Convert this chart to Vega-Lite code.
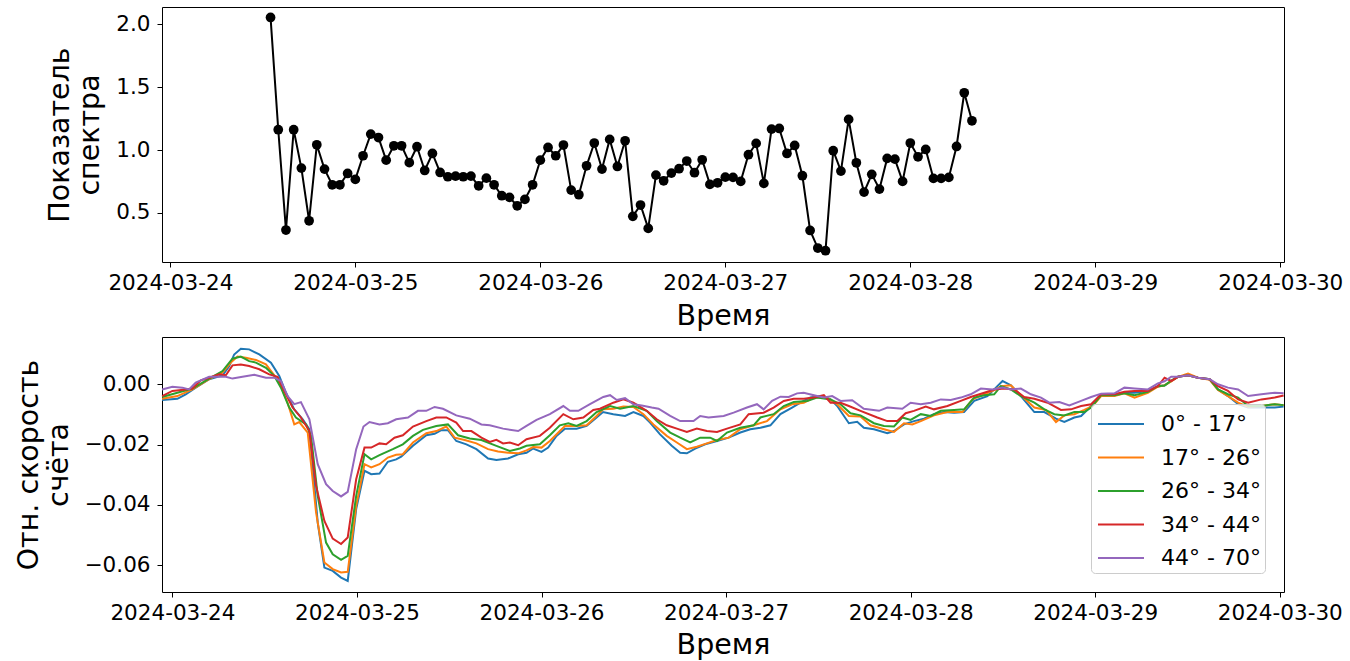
{
  "$schema": "https://vega.github.io/schema/vega-lite/v6.json",
  "background": "white",
  "padding": {"left": 13, "top": 6, "right": 0, "bottom": 0},
  "spacing": 5,
  "config": {
    "font": "DejaVu Sans",
    "view": {"stroke": "black", "strokeWidth": 1},
    "axis": {
      "domain": false, "grid": false,
      "tickColor": "black", "tickSize": 5, "tickWidth": 1,
      "labelColor": "black", "labelFont": "DejaVu Sans", "labelFontSize": 21.5,
      "titleColor": "black", "titleFont": "DejaVu Sans", "titleFontSize": 28.5, "titleFontWeight": "normal"
    },
    "axisX": {"labelPadding": 5, "titlePadding": 8, "labelFlush": false, "labelOverlap": false, "labelBound": false},
    "axisY": {"labelPadding": 7, "titlePadding": 11, "titleLineHeight": 30},
    "legend": {
      "orient": "none", "legendX": 929, "legendY": 397, "title": null,
      "symbolType": "M-0.867,0H2.2", "symbolSize": 900, "symbolStrokeWidth": 2,
      "labelFont": "DejaVu Sans", "labelFontSize": 22, "labelColor": "black", "labelOffset": 34, "labelLimit": 400,
      "padding": 4, "rowPadding": 6.5,
      "strokeColor": "#cccccc", "fillColor": "rgba(255,255,255,0.8)", "cornerRadius": 4
    }
  },
  "datasets": {
    "spec": [
      {"t": "2024-03-24T13:00", "v": 2.055}, {"t": "2024-03-24T14:00", "v": 1.162}, {"t": "2024-03-24T15:00", "v": 0.364},
      {"t": "2024-03-24T16:00", "v": 1.162}, {"t": "2024-03-24T17:00", "v": 0.857}, {"t": "2024-03-24T18:00", "v": 0.438},
      {"t": "2024-03-24T19:00", "v": 1.042}, {"t": "2024-03-24T20:00", "v": 0.849}, {"t": "2024-03-24T21:00", "v": 0.724},
      {"t": "2024-03-24T22:00", "v": 0.724}, {"t": "2024-03-24T23:00", "v": 0.814}, {"t": "2024-03-25T00:00", "v": 0.767},
      {"t": "2024-03-25T01:00", "v": 0.955}, {"t": "2024-03-25T02:00", "v": 1.127}, {"t": "2024-03-25T03:00", "v": 1.1},
      {"t": "2024-03-25T04:00", "v": 0.92}, {"t": "2024-03-25T05:00", "v": 1.034}, {"t": "2024-03-25T06:00", "v": 1.034},
      {"t": "2024-03-25T07:00", "v": 0.9}, {"t": "2024-03-25T08:00", "v": 1.027}, {"t": "2024-03-25T09:00", "v": 0.838},
      {"t": "2024-03-25T10:00", "v": 0.973}, {"t": "2024-03-25T11:00", "v": 0.822}, {"t": "2024-03-25T12:00", "v": 0.788},
      {"t": "2024-03-25T13:00", "v": 0.793}, {"t": "2024-03-25T14:00", "v": 0.788}, {"t": "2024-03-25T15:00", "v": 0.793},
      {"t": "2024-03-25T16:00", "v": 0.716}, {"t": "2024-03-25T17:00", "v": 0.777}, {"t": "2024-03-25T18:00", "v": 0.724},
      {"t": "2024-03-25T19:00", "v": 0.637}, {"t": "2024-03-25T20:00", "v": 0.624}, {"t": "2024-03-25T21:00", "v": 0.557},
      {"t": "2024-03-25T22:00", "v": 0.608}, {"t": "2024-03-25T23:00", "v": 0.724}, {"t": "2024-03-26T00:00", "v": 0.92},
      {"t": "2024-03-26T01:00", "v": 1.021}, {"t": "2024-03-26T02:00", "v": 0.955}, {"t": "2024-03-26T03:00", "v": 1.04},
      {"t": "2024-03-26T04:00", "v": 0.682}, {"t": "2024-03-26T05:00", "v": 0.645}, {"t": "2024-03-26T06:00", "v": 0.875},
      {"t": "2024-03-26T07:00", "v": 1.056}, {"t": "2024-03-26T08:00", "v": 0.849}, {"t": "2024-03-26T09:00", "v": 1.085},
      {"t": "2024-03-26T10:00", "v": 0.87}, {"t": "2024-03-26T11:00", "v": 1.074}, {"t": "2024-03-26T12:00", "v": 0.473},
      {"t": "2024-03-26T13:00", "v": 0.563}, {"t": "2024-03-26T14:00", "v": 0.377}, {"t": "2024-03-26T15:00", "v": 0.801},
      {"t": "2024-03-26T16:00", "v": 0.756}, {"t": "2024-03-26T17:00", "v": 0.817}, {"t": "2024-03-26T18:00", "v": 0.852},
      {"t": "2024-03-26T19:00", "v": 0.913}, {"t": "2024-03-26T20:00", "v": 0.82}, {"t": "2024-03-26T21:00", "v": 0.923},
      {"t": "2024-03-26T22:00", "v": 0.727}, {"t": "2024-03-26T23:00", "v": 0.74}, {"t": "2024-03-27T00:00", "v": 0.785},
      {"t": "2024-03-27T01:00", "v": 0.783}, {"t": "2024-03-27T02:00", "v": 0.751}, {"t": "2024-03-27T03:00", "v": 0.963},
      {"t": "2024-03-27T04:00", "v": 1.053}, {"t": "2024-03-27T05:00", "v": 0.735}, {"t": "2024-03-27T06:00", "v": 1.167},
      {"t": "2024-03-27T07:00", "v": 1.172}, {"t": "2024-03-27T08:00", "v": 0.973}, {"t": "2024-03-27T09:00", "v": 1.037},
      {"t": "2024-03-27T10:00", "v": 0.796}, {"t": "2024-03-27T11:00", "v": 0.361}, {"t": "2024-03-27T12:00", "v": 0.221},
      {"t": "2024-03-27T13:00", "v": 0.2}, {"t": "2024-03-27T14:00", "v": 0.995}, {"t": "2024-03-27T15:00", "v": 0.833},
      {"t": "2024-03-27T16:00", "v": 1.244}, {"t": "2024-03-27T17:00", "v": 0.899}, {"t": "2024-03-27T18:00", "v": 0.666},
      {"t": "2024-03-27T19:00", "v": 0.807}, {"t": "2024-03-27T20:00", "v": 0.69}, {"t": "2024-03-27T21:00", "v": 0.934},
      {"t": "2024-03-27T22:00", "v": 0.928}, {"t": "2024-03-27T23:00", "v": 0.751}, {"t": "2024-03-28T00:00", "v": 1.056},
      {"t": "2024-03-28T01:00", "v": 0.947}, {"t": "2024-03-28T02:00", "v": 1.005}, {"t": "2024-03-28T03:00", "v": 0.775},
      {"t": "2024-03-28T04:00", "v": 0.775}, {"t": "2024-03-28T05:00", "v": 0.783}, {"t": "2024-03-28T06:00", "v": 1.029},
      {"t": "2024-03-28T07:00", "v": 1.456}, {"t": "2024-03-28T08:00", "v": 1.233}
    ],
    "rate": [
      {"s": "0° - 17°", "t": "2024-03-23T22:40", "v": -0.0052}, {"s": "0° - 17°", "t": "2024-03-24T00:39", "v": -0.0048},
      {"s": "0° - 17°", "t": "2024-03-24T01:44", "v": -0.0033}, {"s": "0° - 17°", "t": "2024-03-24T03:02", "v": -0.0011},
      {"s": "0° - 17°", "t": "2024-03-24T04:47", "v": 0.0017}, {"s": "0° - 17°", "t": "2024-03-24T06:31", "v": 0.003},
      {"s": "0° - 17°", "t": "2024-03-24T07:23", "v": 0.006}, {"s": "0° - 17°", "t": "2024-03-24T08:02", "v": 0.0099},
      {"s": "0° - 17°", "t": "2024-03-24T08:54", "v": 0.0118}, {"s": "0° - 17°", "t": "2024-03-24T09:59", "v": 0.0116},
      {"s": "0° - 17°", "t": "2024-03-24T11:18", "v": 0.0099}, {"s": "0° - 17°", "t": "2024-03-24T12:49", "v": 0.0072},
      {"s": "0° - 17°", "t": "2024-03-24T13:54", "v": 0.0028}, {"s": "0° - 17°", "t": "2024-03-24T14:46", "v": -0.0028},
      {"s": "0° - 17°", "t": "2024-03-24T15:51", "v": -0.0083}, {"s": "0° - 17°", "t": "2024-03-24T16:57", "v": -0.0116},
      {"s": "0° - 17°", "t": "2024-03-24T17:49", "v": -0.0149}, {"s": "0° - 17°", "t": "2024-03-24T18:54", "v": -0.0459},
      {"s": "0° - 17°", "t": "2024-03-24T19:46", "v": -0.0608}, {"s": "0° - 17°", "t": "2024-03-24T20:51", "v": -0.0619},
      {"s": "0° - 17°", "t": "2024-03-24T21:56", "v": -0.0641}, {"s": "0° - 17°", "t": "2024-03-24T22:48", "v": -0.0652},
      {"s": "0° - 17°", "t": "2024-03-24T23:54", "v": -0.0414}, {"s": "0° - 17°", "t": "2024-03-25T00:59", "v": -0.0287},
      {"s": "0° - 17°", "t": "2024-03-25T01:51", "v": -0.0298}, {"s": "0° - 17°", "t": "2024-03-25T02:56", "v": -0.0296},
      {"s": "0° - 17°", "t": "2024-03-25T04:01", "v": -0.0257}, {"s": "0° - 17°", "t": "2024-03-25T05:06", "v": -0.0249},
      {"s": "0° - 17°", "t": "2024-03-25T05:45", "v": -0.024}, {"s": "0° - 17°", "t": "2024-03-25T07:17", "v": -0.0204},
      {"s": "0° - 17°", "t": "2024-03-25T09:01", "v": -0.0169}, {"s": "0° - 17°", "t": "2024-03-25T10:06", "v": -0.0164},
      {"s": "0° - 17°", "t": "2024-03-25T10:58", "v": -0.0152}, {"s": "0° - 17°", "t": "2024-03-25T11:50", "v": -0.0152},
      {"s": "0° - 17°", "t": "2024-03-25T12:55", "v": -0.0188}, {"s": "0° - 17°", "t": "2024-03-25T14:14", "v": -0.0199},
      {"s": "0° - 17°", "t": "2024-03-25T15:32", "v": -0.0215}, {"s": "0° - 17°", "t": "2024-03-25T17:03", "v": -0.0246},
      {"s": "0° - 17°", "t": "2024-03-25T18:08", "v": -0.0251}, {"s": "0° - 17°", "t": "2024-03-25T19:39", "v": -0.0246},
      {"s": "0° - 17°", "t": "2024-03-25T20:58", "v": -0.0232}, {"s": "0° - 17°", "t": "2024-03-25T22:03", "v": -0.0227},
      {"s": "0° - 17°", "t": "2024-03-25T22:55", "v": -0.0213}, {"s": "0° - 17°", "t": "2024-03-26T00:00", "v": -0.0224},
      {"s": "0° - 17°", "t": "2024-03-26T00:52", "v": -0.021}, {"s": "0° - 17°", "t": "2024-03-26T01:57", "v": -0.0171},
      {"s": "0° - 17°", "t": "2024-03-26T03:03", "v": -0.0147}, {"s": "0° - 17°", "t": "2024-03-26T04:34", "v": -0.0147},
      {"s": "0° - 17°", "t": "2024-03-26T05:52", "v": -0.0138}, {"s": "0° - 17°", "t": "2024-03-26T07:10", "v": -0.011},
      {"s": "0° - 17°", "t": "2024-03-26T08:00", "v": -0.0092}, {"s": "0° - 17°", "t": "2024-03-26T09:20", "v": -0.0099},
      {"s": "0° - 17°", "t": "2024-03-26T10:52", "v": -0.0105}, {"s": "0° - 17°", "t": "2024-03-26T11:57", "v": -0.0092},
      {"s": "0° - 17°", "t": "2024-03-26T13:15", "v": -0.0105}, {"s": "0° - 17°", "t": "2024-03-26T14:07", "v": -0.0127},
      {"s": "0° - 17°", "t": "2024-03-26T15:25", "v": -0.0166}, {"s": "0° - 17°", "t": "2024-03-26T16:56", "v": -0.0204},
      {"s": "0° - 17°", "t": "2024-03-26T18:02", "v": -0.0227}, {"s": "0° - 17°", "t": "2024-03-26T18:54", "v": -0.0229},
      {"s": "0° - 17°", "t": "2024-03-26T19:59", "v": -0.0213}, {"s": "0° - 17°", "t": "2024-03-26T21:17", "v": -0.0199},
      {"s": "0° - 17°", "t": "2024-03-26T22:49", "v": -0.0188}, {"s": "0° - 17°", "t": "2024-03-27T00:20", "v": -0.0177},
      {"s": "0° - 17°", "t": "2024-03-27T01:51", "v": -0.016}, {"s": "0° - 17°", "t": "2024-03-27T03:09", "v": -0.0149},
      {"s": "0° - 17°", "t": "2024-03-27T04:28", "v": -0.0144}, {"s": "0° - 17°", "t": "2024-03-27T05:46", "v": -0.0136},
      {"s": "0° - 17°", "t": "2024-03-27T07:04", "v": -0.0099}, {"s": "0° - 17°", "t": "2024-03-27T08:35", "v": -0.0077},
      {"s": "0° - 17°", "t": "2024-03-27T09:40", "v": -0.0061}, {"s": "0° - 17°", "t": "2024-03-27T10:58", "v": -0.0044},
      {"s": "0° - 17°", "t": "2024-03-27T12:16", "v": -0.0039}, {"s": "0° - 17°", "t": "2024-03-27T13:35", "v": -0.005},
      {"s": "0° - 17°", "t": "2024-03-27T14:27", "v": -0.0072}, {"s": "0° - 17°", "t": "2024-03-27T15:58", "v": -0.0129},
      {"s": "0° - 17°", "t": "2024-03-27T17:03", "v": -0.0124}, {"s": "0° - 17°", "t": "2024-03-27T17:55", "v": -0.0144},
      {"s": "0° - 17°", "t": "2024-03-27T19:14", "v": -0.0149}, {"s": "0° - 17°", "t": "2024-03-27T20:58", "v": -0.0162},
      {"s": "0° - 17°", "t": "2024-03-27T21:50", "v": -0.0155}, {"s": "0° - 17°", "t": "2024-03-27T23:08", "v": -0.0133},
      {"s": "0° - 17°", "t": "2024-03-28T00:26", "v": -0.0122}, {"s": "0° - 17°", "t": "2024-03-28T01:44", "v": -0.0114},
      {"s": "0° - 17°", "t": "2024-03-28T03:02", "v": -0.0099}, {"s": "0° - 17°", "t": "2024-03-28T04:21", "v": -0.0092},
      {"s": "0° - 17°", "t": "2024-03-28T05:39", "v": -0.0094}, {"s": "0° - 17°", "t": "2024-03-28T06:57", "v": -0.0092},
      {"s": "0° - 17°", "t": "2024-03-28T08:16", "v": -0.0055}, {"s": "0° - 17°", "t": "2024-03-28T09:59", "v": -0.0039},
      {"s": "0° - 17°", "t": "2024-03-28T11:05", "v": -0.0011}, {"s": "0° - 17°", "t": "2024-03-28T11:57", "v": 0.0011},
      {"s": "0° - 17°", "t": "2024-03-28T13:02", "v": -0.0003}, {"s": "0° - 17°", "t": "2024-03-28T14:20", "v": -0.0039},
      {"s": "0° - 17°", "t": "2024-03-28T16:05", "v": -0.0092}, {"s": "0° - 17°", "t": "2024-03-28T17:23", "v": -0.0092},
      {"s": "0° - 17°", "t": "2024-03-28T18:54", "v": -0.0114}, {"s": "0° - 17°", "t": "2024-03-28T19:59", "v": -0.0125},
      {"s": "0° - 17°", "t": "2024-03-28T21:17", "v": -0.011}, {"s": "0° - 17°", "t": "2024-03-28T22:10", "v": -0.0105},
      {"s": "0° - 17°", "t": "2024-03-28T23:28", "v": -0.0072}, {"s": "0° - 17°", "t": "2024-03-29T00:46", "v": -0.0033},
      {"s": "0° - 17°", "t": "2024-03-29T02:30", "v": -0.0037}, {"s": "0° - 17°", "t": "2024-03-29T03:48", "v": -0.0028},
      {"s": "0° - 17°", "t": "2024-03-29T05:07", "v": -0.0028}, {"s": "0° - 17°", "t": "2024-03-29T06:51", "v": -0.0022},
      {"s": "0° - 17°", "t": "2024-03-29T08:09", "v": -0.0006}, {"s": "0° - 17°", "t": "2024-03-29T09:01", "v": -0.0004},
      {"s": "0° - 17°", "t": "2024-03-29T09:53", "v": 0.0011}, {"s": "0° - 17°", "t": "2024-03-29T10:46", "v": 0.0025},
      {"s": "0° - 17°", "t": "2024-03-29T12:04", "v": 0.003}, {"s": "0° - 17°", "t": "2024-03-29T13:22", "v": 0.0022},
      {"s": "0° - 17°", "t": "2024-03-29T14:53", "v": 0.0017}, {"s": "0° - 17°", "t": "2024-03-29T15:58", "v": -0.0017},
      {"s": "0° - 17°", "t": "2024-03-29T17:16", "v": -0.0039}, {"s": "0° - 17°", "t": "2024-03-29T18:35", "v": -0.0066},
      {"s": "0° - 17°", "t": "2024-03-29T19:53", "v": -0.0077}, {"s": "0° - 17°", "t": "2024-03-29T21:37", "v": -0.0077},
      {"s": "0° - 17°", "t": "2024-03-29T23:21", "v": -0.0077}, {"s": "0° - 17°", "t": "2024-03-30T00:30", "v": -0.0074},

      {"s": "17° - 26°", "t": "2024-03-23T22:40", "v": -0.0048}, {"s": "17° - 26°", "t": "2024-03-24T00:39", "v": -0.0039},
      {"s": "17° - 26°", "t": "2024-03-24T02:36", "v": -0.0017}, {"s": "17° - 26°", "t": "2024-03-24T04:47", "v": 0.0017},
      {"s": "17° - 26°", "t": "2024-03-24T06:31", "v": 0.0039}, {"s": "17° - 26°", "t": "2024-03-24T07:36", "v": 0.0072},
      {"s": "17° - 26°", "t": "2024-03-24T08:28", "v": 0.0092}, {"s": "17° - 26°", "t": "2024-03-24T09:33", "v": 0.0088},
      {"s": "17° - 26°", "t": "2024-03-24T10:52", "v": 0.0081}, {"s": "17° - 26°", "t": "2024-03-24T12:10", "v": 0.0066},
      {"s": "17° - 26°", "t": "2024-03-24T13:15", "v": 0.003}, {"s": "17° - 26°", "t": "2024-03-24T14:07", "v": -0.0006},
      {"s": "17° - 26°", "t": "2024-03-24T14:59", "v": -0.0061}, {"s": "17° - 26°", "t": "2024-03-24T15:51", "v": -0.0133},
      {"s": "17° - 26°", "t": "2024-03-24T16:30", "v": -0.0125}, {"s": "17° - 26°", "t": "2024-03-24T17:36", "v": -0.016},
      {"s": "17° - 26°", "t": "2024-03-24T18:41", "v": -0.0425}, {"s": "17° - 26°", "t": "2024-03-24T19:46", "v": -0.0591},
      {"s": "17° - 26°", "t": "2024-03-24T20:51", "v": -0.0613}, {"s": "17° - 26°", "t": "2024-03-24T21:56", "v": -0.0624},
      {"s": "17° - 26°", "t": "2024-03-24T22:48", "v": -0.0622}, {"s": "17° - 26°", "t": "2024-03-24T23:54", "v": -0.0403},
      {"s": "17° - 26°", "t": "2024-03-25T00:59", "v": -0.0265}, {"s": "17° - 26°", "t": "2024-03-25T01:51", "v": -0.0276},
      {"s": "17° - 26°", "t": "2024-03-25T02:56", "v": -0.0265}, {"s": "17° - 26°", "t": "2024-03-25T04:01", "v": -0.0243},
      {"s": "17° - 26°", "t": "2024-03-25T05:06", "v": -0.0234}, {"s": "17° - 26°", "t": "2024-03-25T05:58", "v": -0.0232},
      {"s": "17° - 26°", "t": "2024-03-25T07:17", "v": -0.0193}, {"s": "17° - 26°", "t": "2024-03-25T09:01", "v": -0.0162},
      {"s": "17° - 26°", "t": "2024-03-25T10:19", "v": -0.0155}, {"s": "17° - 26°", "t": "2024-03-25T11:37", "v": -0.014},
      {"s": "17° - 26°", "t": "2024-03-25T12:42", "v": -0.0177}, {"s": "17° - 26°", "t": "2024-03-25T14:01", "v": -0.0185},
      {"s": "17° - 26°", "t": "2024-03-25T15:32", "v": -0.0196}, {"s": "17° - 26°", "t": "2024-03-25T17:03", "v": -0.0215},
      {"s": "17° - 26°", "t": "2024-03-25T18:21", "v": -0.0223}, {"s": "17° - 26°", "t": "2024-03-25T19:39", "v": -0.0227},
      {"s": "17° - 26°", "t": "2024-03-25T20:58", "v": -0.0229}, {"s": "17° - 26°", "t": "2024-03-25T22:03", "v": -0.0219},
      {"s": "17° - 26°", "t": "2024-03-25T22:55", "v": -0.0208}, {"s": "17° - 26°", "t": "2024-03-26T00:00", "v": -0.021},
      {"s": "17° - 26°", "t": "2024-03-26T01:05", "v": -0.0188}, {"s": "17° - 26°", "t": "2024-03-26T02:23", "v": -0.0155},
      {"s": "17° - 26°", "t": "2024-03-26T03:03", "v": -0.0138}, {"s": "17° - 26°", "t": "2024-03-26T04:34", "v": -0.0138},
      {"s": "17° - 26°", "t": "2024-03-26T05:52", "v": -0.0136}, {"s": "17° - 26°", "t": "2024-03-26T07:10", "v": -0.0105},
      {"s": "17° - 26°", "t": "2024-03-26T08:00", "v": -0.0083}, {"s": "17° - 26°", "t": "2024-03-26T09:20", "v": -0.0081},
      {"s": "17° - 26°", "t": "2024-03-26T10:39", "v": -0.0074}, {"s": "17° - 26°", "t": "2024-03-26T11:57", "v": -0.0075},
      {"s": "17° - 26°", "t": "2024-03-26T13:15", "v": -0.0099}, {"s": "17° - 26°", "t": "2024-03-26T14:33", "v": -0.0133},
      {"s": "17° - 26°", "t": "2024-03-26T16:17", "v": -0.0171}, {"s": "17° - 26°", "t": "2024-03-26T17:36", "v": -0.0193},
      {"s": "17° - 26°", "t": "2024-03-26T18:54", "v": -0.0215}, {"s": "17° - 26°", "t": "2024-03-26T20:12", "v": -0.0207},
      {"s": "17° - 26°", "t": "2024-03-26T21:30", "v": -0.0196}, {"s": "17° - 26°", "t": "2024-03-26T22:49", "v": -0.0185},
      {"s": "17° - 26°", "t": "2024-03-27T00:20", "v": -0.0177}, {"s": "17° - 26°", "t": "2024-03-27T01:51", "v": -0.0149},
      {"s": "17° - 26°", "t": "2024-03-27T03:35", "v": -0.0136}, {"s": "17° - 26°", "t": "2024-03-27T05:19", "v": -0.0122},
      {"s": "17° - 26°", "t": "2024-03-27T07:04", "v": -0.0083}, {"s": "17° - 26°", "t": "2024-03-27T08:35", "v": -0.0066},
      {"s": "17° - 26°", "t": "2024-03-27T10:06", "v": -0.0061}, {"s": "17° - 26°", "t": "2024-03-27T11:25", "v": -0.0044},
      {"s": "17° - 26°", "t": "2024-03-27T13:08", "v": -0.0044}, {"s": "17° - 26°", "t": "2024-03-27T14:27", "v": -0.0066},
      {"s": "17° - 26°", "t": "2024-03-27T15:58", "v": -0.0105}, {"s": "17° - 26°", "t": "2024-03-27T17:29", "v": -0.0107},
      {"s": "17° - 26°", "t": "2024-03-27T18:47", "v": -0.0136}, {"s": "17° - 26°", "t": "2024-03-27T20:32", "v": -0.0149},
      {"s": "17° - 26°", "t": "2024-03-27T21:50", "v": -0.0158}, {"s": "17° - 26°", "t": "2024-03-27T23:08", "v": -0.0129},
      {"s": "17° - 26°", "t": "2024-03-28T00:13", "v": -0.0133}, {"s": "17° - 26°", "t": "2024-03-28T01:19", "v": -0.0122},
      {"s": "17° - 26°", "t": "2024-03-28T03:02", "v": -0.0103}, {"s": "17° - 26°", "t": "2024-03-28T04:47", "v": -0.0092},
      {"s": "17° - 26°", "t": "2024-03-28T06:44", "v": -0.0092}, {"s": "17° - 26°", "t": "2024-03-28T08:02", "v": -0.005},
      {"s": "17° - 26°", "t": "2024-03-28T09:34", "v": -0.0033}, {"s": "17° - 26°", "t": "2024-03-28T10:52", "v": -0.0019},
      {"s": "17° - 26°", "t": "2024-03-28T11:44", "v": -0.0006}, {"s": "17° - 26°", "t": "2024-03-28T13:02", "v": -0.0003},
      {"s": "17° - 26°", "t": "2024-03-28T14:20", "v": -0.0036}, {"s": "17° - 26°", "t": "2024-03-28T16:05", "v": -0.0077},
      {"s": "17° - 26°", "t": "2024-03-28T17:36", "v": -0.0085}, {"s": "17° - 26°", "t": "2024-03-28T18:54", "v": -0.0125},
      {"s": "17° - 26°", "t": "2024-03-28T19:59", "v": -0.0103}, {"s": "17° - 26°", "t": "2024-03-28T21:17", "v": -0.0099},
      {"s": "17° - 26°", "t": "2024-03-28T22:35", "v": -0.0085}, {"s": "17° - 26°", "t": "2024-03-28T23:41", "v": -0.0072},
      {"s": "17° - 26°", "t": "2024-03-29T00:46", "v": -0.0039}, {"s": "17° - 26°", "t": "2024-03-29T02:30", "v": -0.0039},
      {"s": "17° - 26°", "t": "2024-03-29T03:48", "v": -0.003}, {"s": "17° - 26°", "t": "2024-03-29T05:07", "v": -0.0044},
      {"s": "17° - 26°", "t": "2024-03-29T06:51", "v": -0.0028}, {"s": "17° - 26°", "t": "2024-03-29T08:09", "v": -0.0008},
      {"s": "17° - 26°", "t": "2024-03-29T09:01", "v": -0.0003}, {"s": "17° - 26°", "t": "2024-03-29T09:53", "v": 0.001},
      {"s": "17° - 26°", "t": "2024-03-29T10:46", "v": 0.0025}, {"s": "17° - 26°", "t": "2024-03-29T12:04", "v": 0.0036},
      {"s": "17° - 26°", "t": "2024-03-29T13:22", "v": 0.0022}, {"s": "17° - 26°", "t": "2024-03-29T14:53", "v": 0.0015},
      {"s": "17° - 26°", "t": "2024-03-29T15:58", "v": -0.0019}, {"s": "17° - 26°", "t": "2024-03-29T17:16", "v": -0.0039},
      {"s": "17° - 26°", "t": "2024-03-29T18:35", "v": -0.0061}, {"s": "17° - 26°", "t": "2024-03-29T19:53", "v": -0.0074},
      {"s": "17° - 26°", "t": "2024-03-29T21:37", "v": -0.0072}, {"s": "17° - 26°", "t": "2024-03-29T23:21", "v": -0.0066},
      {"s": "17° - 26°", "t": "2024-03-30T00:30", "v": -0.0069},

      {"s": "26° - 34°", "t": "2024-03-23T22:40", "v": -0.0042}, {"s": "26° - 34°", "t": "2024-03-24T00:39", "v": -0.0028},
      {"s": "26° - 34°", "t": "2024-03-24T02:36", "v": -0.0014}, {"s": "26° - 34°", "t": "2024-03-24T04:47", "v": 0.0019},
      {"s": "26° - 34°", "t": "2024-03-24T06:31", "v": 0.0044}, {"s": "26° - 34°", "t": "2024-03-24T07:49", "v": 0.0085},
      {"s": "26° - 34°", "t": "2024-03-24T08:54", "v": 0.0092}, {"s": "26° - 34°", "t": "2024-03-24T09:59", "v": 0.0077},
      {"s": "26° - 34°", "t": "2024-03-24T10:52", "v": 0.0072}, {"s": "26° - 34°", "t": "2024-03-24T12:10", "v": 0.0055},
      {"s": "26° - 34°", "t": "2024-03-24T13:15", "v": 0.0028}, {"s": "26° - 34°", "t": "2024-03-24T14:07", "v": -0.0011},
      {"s": "26° - 34°", "t": "2024-03-24T15:12", "v": -0.0077}, {"s": "26° - 34°", "t": "2024-03-24T16:04", "v": -0.011},
      {"s": "26° - 34°", "t": "2024-03-24T17:23", "v": -0.0133}, {"s": "26° - 34°", "t": "2024-03-24T18:02", "v": -0.0171},
      {"s": "26° - 34°", "t": "2024-03-24T18:54", "v": -0.037}, {"s": "26° - 34°", "t": "2024-03-24T19:59", "v": -0.0525},
      {"s": "26° - 34°", "t": "2024-03-24T20:51", "v": -0.0564}, {"s": "26° - 34°", "t": "2024-03-24T21:56", "v": -0.0582},
      {"s": "26° - 34°", "t": "2024-03-24T22:48", "v": -0.0569}, {"s": "26° - 34°", "t": "2024-03-24T23:54", "v": -0.037},
      {"s": "26° - 34°", "t": "2024-03-25T00:59", "v": -0.0232}, {"s": "26° - 34°", "t": "2024-03-25T01:51", "v": -0.0249},
      {"s": "26° - 34°", "t": "2024-03-25T02:56", "v": -0.0235}, {"s": "26° - 34°", "t": "2024-03-25T04:40", "v": -0.0215},
      {"s": "26° - 34°", "t": "2024-03-25T05:58", "v": -0.0199}, {"s": "26° - 34°", "t": "2024-03-25T07:17", "v": -0.0171},
      {"s": "26° - 34°", "t": "2024-03-25T08:35", "v": -0.0151}, {"s": "26° - 34°", "t": "2024-03-25T10:19", "v": -0.0138},
      {"s": "26° - 34°", "t": "2024-03-25T11:50", "v": -0.0133}, {"s": "26° - 34°", "t": "2024-03-25T13:09", "v": -0.0169},
      {"s": "26° - 34°", "t": "2024-03-25T14:40", "v": -0.018}, {"s": "26° - 34°", "t": "2024-03-25T16:11", "v": -0.0185},
      {"s": "26° - 34°", "t": "2024-03-25T18:08", "v": -0.0204}, {"s": "26° - 34°", "t": "2024-03-25T19:53", "v": -0.0221},
      {"s": "26° - 34°", "t": "2024-03-25T21:11", "v": -0.0213}, {"s": "26° - 34°", "t": "2024-03-25T22:03", "v": -0.0204},
      {"s": "26° - 34°", "t": "2024-03-25T23:47", "v": -0.0199}, {"s": "26° - 34°", "t": "2024-03-26T01:05", "v": -0.0169},
      {"s": "26° - 34°", "t": "2024-03-26T02:23", "v": -0.0136}, {"s": "26° - 34°", "t": "2024-03-26T03:29", "v": -0.0129},
      {"s": "26° - 34°", "t": "2024-03-26T04:34", "v": -0.0138}, {"s": "26° - 34°", "t": "2024-03-26T05:52", "v": -0.0122},
      {"s": "26° - 34°", "t": "2024-03-26T07:10", "v": -0.0092}, {"s": "26° - 34°", "t": "2024-03-26T08:55", "v": -0.0072},
      {"s": "26° - 34°", "t": "2024-03-26T10:13", "v": -0.0081}, {"s": "26° - 34°", "t": "2024-03-26T11:57", "v": -0.0072},
      {"s": "26° - 34°", "t": "2024-03-26T13:41", "v": -0.0088}, {"s": "26° - 34°", "t": "2024-03-26T14:59", "v": -0.0122},
      {"s": "26° - 34°", "t": "2024-03-26T16:44", "v": -0.016}, {"s": "26° - 34°", "t": "2024-03-26T18:02", "v": -0.0177},
      {"s": "26° - 34°", "t": "2024-03-26T19:20", "v": -0.0193}, {"s": "26° - 34°", "t": "2024-03-26T20:38", "v": -0.0177},
      {"s": "26° - 34°", "t": "2024-03-26T21:56", "v": -0.0177}, {"s": "26° - 34°", "t": "2024-03-26T22:49", "v": -0.0188},
      {"s": "26° - 34°", "t": "2024-03-27T00:07", "v": -0.016}, {"s": "26° - 34°", "t": "2024-03-27T01:51", "v": -0.0144},
      {"s": "26° - 34°", "t": "2024-03-27T03:35", "v": -0.0136}, {"s": "26° - 34°", "t": "2024-03-27T04:28", "v": -0.011},
      {"s": "26° - 34°", "t": "2024-03-27T06:11", "v": -0.0099}, {"s": "26° - 34°", "t": "2024-03-27T07:30", "v": -0.0072},
      {"s": "26° - 34°", "t": "2024-03-27T08:48", "v": -0.0059}, {"s": "26° - 34°", "t": "2024-03-27T10:32", "v": -0.0055},
      {"s": "26° - 34°", "t": "2024-03-27T11:50", "v": -0.0044}, {"s": "26° - 34°", "t": "2024-03-27T13:35", "v": -0.005},
      {"s": "26° - 34°", "t": "2024-03-27T14:53", "v": -0.0066}, {"s": "26° - 34°", "t": "2024-03-27T16:11", "v": -0.0096},
      {"s": "26° - 34°", "t": "2024-03-27T17:29", "v": -0.0103}, {"s": "26° - 34°", "t": "2024-03-27T19:14", "v": -0.0129},
      {"s": "26° - 34°", "t": "2024-03-27T20:32", "v": -0.0138}, {"s": "26° - 34°", "t": "2024-03-27T21:50", "v": -0.014},
      {"s": "26° - 34°", "t": "2024-03-27T22:55", "v": -0.011}, {"s": "26° - 34°", "t": "2024-03-28T00:00", "v": -0.0118},
      {"s": "26° - 34°", "t": "2024-03-28T01:19", "v": -0.0099}, {"s": "26° - 34°", "t": "2024-03-28T02:37", "v": -0.0105},
      {"s": "26° - 34°", "t": "2024-03-28T03:55", "v": -0.0088}, {"s": "26° - 34°", "t": "2024-03-28T05:39", "v": -0.0085},
      {"s": "26° - 34°", "t": "2024-03-28T06:57", "v": -0.0083}, {"s": "26° - 34°", "t": "2024-03-28T08:16", "v": -0.0044},
      {"s": "26° - 34°", "t": "2024-03-28T09:34", "v": -0.0036}, {"s": "26° - 34°", "t": "2024-03-28T10:52", "v": -0.0033},
      {"s": "26° - 34°", "t": "2024-03-28T11:44", "v": -0.0006}, {"s": "26° - 34°", "t": "2024-03-28T13:02", "v": -0.0017},
      {"s": "26° - 34°", "t": "2024-03-28T14:20", "v": -0.0039}, {"s": "26° - 34°", "t": "2024-03-28T16:05", "v": -0.0061},
      {"s": "26° - 34°", "t": "2024-03-28T17:23", "v": -0.0083}, {"s": "26° - 34°", "t": "2024-03-28T18:41", "v": -0.0099},
      {"s": "26° - 34°", "t": "2024-03-28T19:59", "v": -0.0103}, {"s": "26° - 34°", "t": "2024-03-28T21:17", "v": -0.0092},
      {"s": "26° - 34°", "t": "2024-03-28T22:35", "v": -0.0092}, {"s": "26° - 34°", "t": "2024-03-28T23:28", "v": -0.0077},
      {"s": "26° - 34°", "t": "2024-03-29T00:46", "v": -0.0036}, {"s": "26° - 34°", "t": "2024-03-29T02:30", "v": -0.0036},
      {"s": "26° - 34°", "t": "2024-03-29T03:48", "v": -0.003}, {"s": "26° - 34°", "t": "2024-03-29T05:07", "v": -0.0036},
      {"s": "26° - 34°", "t": "2024-03-29T06:51", "v": -0.0025}, {"s": "26° - 34°", "t": "2024-03-29T08:09", "v": -0.0006},
      {"s": "26° - 34°", "t": "2024-03-29T09:01", "v": -0.0004}, {"s": "26° - 34°", "t": "2024-03-29T09:53", "v": 0.0012},
      {"s": "26° - 34°", "t": "2024-03-29T10:46", "v": 0.0025}, {"s": "26° - 34°", "t": "2024-03-29T12:04", "v": 0.003},
      {"s": "26° - 34°", "t": "2024-03-29T13:22", "v": 0.0022}, {"s": "26° - 34°", "t": "2024-03-29T14:53", "v": 0.0017},
      {"s": "26° - 34°", "t": "2024-03-29T15:58", "v": -0.0017}, {"s": "26° - 34°", "t": "2024-03-29T17:16", "v": -0.0033},
      {"s": "26° - 34°", "t": "2024-03-29T18:35", "v": -0.0044}, {"s": "26° - 34°", "t": "2024-03-29T19:53", "v": -0.0072},
      {"s": "26° - 34°", "t": "2024-03-29T21:37", "v": -0.0072}, {"s": "26° - 34°", "t": "2024-03-29T23:21", "v": -0.0066},
      {"s": "26° - 34°", "t": "2024-03-30T00:30", "v": -0.0069},

      {"s": "34° - 44°", "t": "2024-03-23T22:40", "v": -0.0039}, {"s": "34° - 44°", "t": "2024-03-24T00:00", "v": -0.0022},
      {"s": "34° - 44°", "t": "2024-03-24T01:44", "v": -0.0017}, {"s": "34° - 44°", "t": "2024-03-24T02:36", "v": -0.0014},
      {"s": "34° - 44°", "t": "2024-03-24T03:42", "v": 0.0013}, {"s": "34° - 44°", "t": "2024-03-24T04:47", "v": 0.0022},
      {"s": "34° - 44°", "t": "2024-03-24T06:05", "v": 0.0033}, {"s": "34° - 44°", "t": "2024-03-24T06:57", "v": 0.003},
      {"s": "34° - 44°", "t": "2024-03-24T07:49", "v": 0.0063}, {"s": "34° - 44°", "t": "2024-03-24T08:54", "v": 0.0066},
      {"s": "34° - 44°", "t": "2024-03-24T09:59", "v": 0.0061}, {"s": "34° - 44°", "t": "2024-03-24T11:18", "v": 0.005},
      {"s": "34° - 44°", "t": "2024-03-24T12:36", "v": 0.0033}, {"s": "34° - 44°", "t": "2024-03-24T13:41", "v": 0.0025},
      {"s": "34° - 44°", "t": "2024-03-24T14:20", "v": -0.0011}, {"s": "34° - 44°", "t": "2024-03-24T15:38", "v": -0.0077},
      {"s": "34° - 44°", "t": "2024-03-24T16:43", "v": -0.011}, {"s": "34° - 44°", "t": "2024-03-24T17:49", "v": -0.0155},
      {"s": "34° - 44°", "t": "2024-03-24T18:41", "v": -0.0337}, {"s": "34° - 44°", "t": "2024-03-24T19:46", "v": -0.0453},
      {"s": "34° - 44°", "t": "2024-03-24T20:51", "v": -0.0512}, {"s": "34° - 44°", "t": "2024-03-24T21:56", "v": -0.053},
      {"s": "34° - 44°", "t": "2024-03-24T22:48", "v": -0.0508}, {"s": "34° - 44°", "t": "2024-03-24T23:54", "v": -0.0315},
      {"s": "34° - 44°", "t": "2024-03-25T00:59", "v": -0.021}, {"s": "34° - 44°", "t": "2024-03-25T01:51", "v": -0.021},
      {"s": "34° - 44°", "t": "2024-03-25T02:56", "v": -0.0196}, {"s": "34° - 44°", "t": "2024-03-25T03:48", "v": -0.0199},
      {"s": "34° - 44°", "t": "2024-03-25T04:53", "v": -0.0177}, {"s": "34° - 44°", "t": "2024-03-25T05:58", "v": -0.0169},
      {"s": "34° - 44°", "t": "2024-03-25T07:17", "v": -0.014}, {"s": "34° - 44°", "t": "2024-03-25T09:01", "v": -0.0122},
      {"s": "34° - 44°", "t": "2024-03-25T10:19", "v": -0.011}, {"s": "34° - 44°", "t": "2024-03-25T11:37", "v": -0.011},
      {"s": "34° - 44°", "t": "2024-03-25T12:55", "v": -0.0127}, {"s": "34° - 44°", "t": "2024-03-25T13:48", "v": -0.0155},
      {"s": "34° - 44°", "t": "2024-03-25T14:53", "v": -0.0155}, {"s": "34° - 44°", "t": "2024-03-25T16:11", "v": -0.0177},
      {"s": "34° - 44°", "t": "2024-03-25T17:16", "v": -0.0191}, {"s": "34° - 44°", "t": "2024-03-25T18:08", "v": -0.0184},
      {"s": "34° - 44°", "t": "2024-03-25T19:00", "v": -0.0196}, {"s": "34° - 44°", "t": "2024-03-25T19:53", "v": -0.0193},
      {"s": "34° - 44°", "t": "2024-03-25T20:58", "v": -0.0202}, {"s": "34° - 44°", "t": "2024-03-25T22:03", "v": -0.0182},
      {"s": "34° - 44°", "t": "2024-03-25T23:47", "v": -0.0171}, {"s": "34° - 44°", "t": "2024-03-26T01:05", "v": -0.0144},
      {"s": "34° - 44°", "t": "2024-03-26T02:50", "v": -0.0099}, {"s": "34° - 44°", "t": "2024-03-26T04:08", "v": -0.0116},
      {"s": "34° - 44°", "t": "2024-03-26T05:26", "v": -0.011}, {"s": "34° - 44°", "t": "2024-03-26T06:44", "v": -0.0085},
      {"s": "34° - 44°", "t": "2024-03-26T07:36", "v": -0.0081}, {"s": "34° - 44°", "t": "2024-03-26T09:20", "v": -0.0061},
      {"s": "34° - 44°", "t": "2024-03-26T10:39", "v": -0.005}, {"s": "34° - 44°", "t": "2024-03-26T11:57", "v": -0.0061},
      {"s": "34° - 44°", "t": "2024-03-26T13:41", "v": -0.0088}, {"s": "34° - 44°", "t": "2024-03-26T14:59", "v": -0.0116},
      {"s": "34° - 44°", "t": "2024-03-26T16:17", "v": -0.0136}, {"s": "34° - 44°", "t": "2024-03-26T17:36", "v": -0.0147},
      {"s": "34° - 44°", "t": "2024-03-26T18:54", "v": -0.0158}, {"s": "34° - 44°", "t": "2024-03-26T20:12", "v": -0.0147},
      {"s": "34° - 44°", "t": "2024-03-26T21:30", "v": -0.0155}, {"s": "34° - 44°", "t": "2024-03-26T22:49", "v": -0.0158},
      {"s": "34° - 44°", "t": "2024-03-27T00:07", "v": -0.0147}, {"s": "34° - 44°", "t": "2024-03-27T01:51", "v": -0.0133},
      {"s": "34° - 44°", "t": "2024-03-27T02:56", "v": -0.0099}, {"s": "34° - 44°", "t": "2024-03-27T04:53", "v": -0.0094},
      {"s": "34° - 44°", "t": "2024-03-27T06:11", "v": -0.0077}, {"s": "34° - 44°", "t": "2024-03-27T07:30", "v": -0.0055},
      {"s": "34° - 44°", "t": "2024-03-27T08:48", "v": -0.0048}, {"s": "34° - 44°", "t": "2024-03-27T10:06", "v": -0.0048},
      {"s": "34° - 44°", "t": "2024-03-27T11:25", "v": -0.0044}, {"s": "34° - 44°", "t": "2024-03-27T12:43", "v": -0.0036},
      {"s": "34° - 44°", "t": "2024-03-27T13:35", "v": -0.0061}, {"s": "34° - 44°", "t": "2024-03-27T14:53", "v": -0.0061},
      {"s": "34° - 44°", "t": "2024-03-27T15:58", "v": -0.0072}, {"s": "34° - 44°", "t": "2024-03-27T17:29", "v": -0.0088},
      {"s": "34° - 44°", "t": "2024-03-27T19:40", "v": -0.011}, {"s": "34° - 44°", "t": "2024-03-27T20:58", "v": -0.0122},
      {"s": "34° - 44°", "t": "2024-03-27T22:16", "v": -0.0122}, {"s": "34° - 44°", "t": "2024-03-27T23:21", "v": -0.0096},
      {"s": "34° - 44°", "t": "2024-03-28T00:26", "v": -0.0088}, {"s": "34° - 44°", "t": "2024-03-28T01:58", "v": -0.0074},
      {"s": "34° - 44°", "t": "2024-03-28T03:02", "v": -0.0083}, {"s": "34° - 44°", "t": "2024-03-28T04:47", "v": -0.0072},
      {"s": "34° - 44°", "t": "2024-03-28T06:31", "v": -0.0055}, {"s": "34° - 44°", "t": "2024-03-28T07:49", "v": -0.0042},
      {"s": "34° - 44°", "t": "2024-03-28T09:34", "v": -0.0028}, {"s": "34° - 44°", "t": "2024-03-28T10:52", "v": -0.0017},
      {"s": "34° - 44°", "t": "2024-03-28T12:10", "v": -0.0014}, {"s": "34° - 44°", "t": "2024-03-28T13:28", "v": -0.0017},
      {"s": "34° - 44°", "t": "2024-03-28T14:46", "v": -0.0042}, {"s": "34° - 44°", "t": "2024-03-28T16:05", "v": -0.0048},
      {"s": "34° - 44°", "t": "2024-03-28T17:49", "v": -0.0061}, {"s": "34° - 44°", "t": "2024-03-28T19:33", "v": -0.0085},
      {"s": "34° - 44°", "t": "2024-03-28T20:51", "v": -0.0083}, {"s": "34° - 44°", "t": "2024-03-28T22:10", "v": -0.0072},
      {"s": "34° - 44°", "t": "2024-03-28T23:28", "v": -0.0066}, {"s": "34° - 44°", "t": "2024-03-29T00:46", "v": -0.0033},
      {"s": "34° - 44°", "t": "2024-03-29T02:30", "v": -0.0033}, {"s": "34° - 44°", "t": "2024-03-29T03:48", "v": -0.0025},
      {"s": "34° - 44°", "t": "2024-03-29T05:07", "v": -0.0022}, {"s": "34° - 44°", "t": "2024-03-29T06:51", "v": -0.0022},
      {"s": "34° - 44°", "t": "2024-03-29T08:09", "v": -0.0006}, {"s": "34° - 44°", "t": "2024-03-29T09:01", "v": 0.0022},
      {"s": "34° - 44°", "t": "2024-03-29T09:53", "v": 0.0011}, {"s": "34° - 44°", "t": "2024-03-29T10:46", "v": 0.0025},
      {"s": "34° - 44°", "t": "2024-03-29T12:04", "v": 0.003}, {"s": "34° - 44°", "t": "2024-03-29T13:22", "v": 0.0022},
      {"s": "34° - 44°", "t": "2024-03-29T14:53", "v": 0.0017}, {"s": "34° - 44°", "t": "2024-03-29T15:58", "v": -0.0006},
      {"s": "34° - 44°", "t": "2024-03-29T17:16", "v": -0.0022}, {"s": "34° - 44°", "t": "2024-03-29T18:35", "v": -0.005},
      {"s": "34° - 44°", "t": "2024-03-29T19:53", "v": -0.0061}, {"s": "34° - 44°", "t": "2024-03-29T21:37", "v": -0.005},
      {"s": "34° - 44°", "t": "2024-03-29T23:21", "v": -0.0044}, {"s": "34° - 44°", "t": "2024-03-30T00:30", "v": -0.0037},

      {"s": "44° - 70°", "t": "2024-03-23T22:40", "v": -0.0017}, {"s": "44° - 70°", "t": "2024-03-24T00:00", "v": -0.0008},
      {"s": "44° - 70°", "t": "2024-03-24T01:18", "v": -0.0011}, {"s": "44° - 70°", "t": "2024-03-24T02:10", "v": -0.0017},
      {"s": "44° - 70°", "t": "2024-03-24T03:02", "v": 0.0006}, {"s": "44° - 70°", "t": "2024-03-24T04:47", "v": 0.0025},
      {"s": "44° - 70°", "t": "2024-03-24T06:57", "v": 0.0025}, {"s": "44° - 70°", "t": "2024-03-24T07:49", "v": 0.0019},
      {"s": "44° - 70°", "t": "2024-03-24T09:07", "v": 0.0025}, {"s": "44° - 70°", "t": "2024-03-24T10:39", "v": 0.0032},
      {"s": "44° - 70°", "t": "2024-03-24T12:10", "v": 0.0022}, {"s": "44° - 70°", "t": "2024-03-24T13:15", "v": 0.0022},
      {"s": "44° - 70°", "t": "2024-03-24T14:07", "v": 0.0011}, {"s": "44° - 70°", "t": "2024-03-24T14:59", "v": -0.0039},
      {"s": "44° - 70°", "t": "2024-03-24T15:51", "v": -0.0066}, {"s": "44° - 70°", "t": "2024-03-24T16:43", "v": -0.0059},
      {"s": "44° - 70°", "t": "2024-03-24T17:49", "v": -0.0116}, {"s": "44° - 70°", "t": "2024-03-24T18:54", "v": -0.0265},
      {"s": "44° - 70°", "t": "2024-03-24T19:59", "v": -0.0331}, {"s": "44° - 70°", "t": "2024-03-24T20:51", "v": -0.0354},
      {"s": "44° - 70°", "t": "2024-03-24T21:56", "v": -0.0372}, {"s": "44° - 70°", "t": "2024-03-24T22:48", "v": -0.0357},
      {"s": "44° - 70°", "t": "2024-03-24T23:54", "v": -0.0215}, {"s": "44° - 70°", "t": "2024-03-25T00:51", "v": -0.014},
      {"s": "44° - 70°", "t": "2024-03-25T01:38", "v": -0.0125}, {"s": "44° - 70°", "t": "2024-03-25T02:56", "v": -0.0133},
      {"s": "44° - 70°", "t": "2024-03-25T04:01", "v": -0.0129}, {"s": "44° - 70°", "t": "2024-03-25T05:06", "v": -0.0116},
      {"s": "44° - 70°", "t": "2024-03-25T06:38", "v": -0.011}, {"s": "44° - 70°", "t": "2024-03-25T07:56", "v": -0.0088},
      {"s": "44° - 70°", "t": "2024-03-25T09:01", "v": -0.0088}, {"s": "44° - 70°", "t": "2024-03-25T10:06", "v": -0.0075},
      {"s": "44° - 70°", "t": "2024-03-25T11:11", "v": -0.0081}, {"s": "44° - 70°", "t": "2024-03-25T12:55", "v": -0.0103},
      {"s": "44° - 70°", "t": "2024-03-25T14:40", "v": -0.0114}, {"s": "44° - 70°", "t": "2024-03-25T16:11", "v": -0.0133},
      {"s": "44° - 70°", "t": "2024-03-25T17:16", "v": -0.0136}, {"s": "44° - 70°", "t": "2024-03-25T19:00", "v": -0.0147},
      {"s": "44° - 70°", "t": "2024-03-25T20:58", "v": -0.0155}, {"s": "44° - 70°", "t": "2024-03-25T22:03", "v": -0.0138},
      {"s": "44° - 70°", "t": "2024-03-25T23:21", "v": -0.0118}, {"s": "44° - 70°", "t": "2024-03-26T01:05", "v": -0.0099},
      {"s": "44° - 70°", "t": "2024-03-26T02:50", "v": -0.0072}, {"s": "44° - 70°", "t": "2024-03-26T03:42", "v": -0.0088},
      {"s": "44° - 70°", "t": "2024-03-26T04:47", "v": -0.0088}, {"s": "44° - 70°", "t": "2024-03-26T06:18", "v": -0.0066},
      {"s": "44° - 70°", "t": "2024-03-26T08:02", "v": -0.0042}, {"s": "44° - 70°", "t": "2024-03-26T08:55", "v": -0.0036},
      {"s": "44° - 70°", "t": "2024-03-26T09:47", "v": -0.0052}, {"s": "44° - 70°", "t": "2024-03-26T10:52", "v": -0.0046},
      {"s": "44° - 70°", "t": "2024-03-26T11:57", "v": -0.0066}, {"s": "44° - 70°", "t": "2024-03-26T13:02", "v": -0.007},
      {"s": "44° - 70°", "t": "2024-03-26T14:20", "v": -0.0077}, {"s": "44° - 70°", "t": "2024-03-26T15:13", "v": -0.0081},
      {"s": "44° - 70°", "t": "2024-03-26T16:44", "v": -0.0105}, {"s": "44° - 70°", "t": "2024-03-26T18:02", "v": -0.0122},
      {"s": "44° - 70°", "t": "2024-03-26T19:46", "v": -0.0122}, {"s": "44° - 70°", "t": "2024-03-26T20:38", "v": -0.0105},
      {"s": "44° - 70°", "t": "2024-03-26T21:43", "v": -0.011}, {"s": "44° - 70°", "t": "2024-03-26T23:41", "v": -0.0105},
      {"s": "44° - 70°", "t": "2024-03-27T00:59", "v": -0.0094}, {"s": "44° - 70°", "t": "2024-03-27T02:43", "v": -0.0077},
      {"s": "44° - 70°", "t": "2024-03-27T04:01", "v": -0.0066}, {"s": "44° - 70°", "t": "2024-03-27T04:53", "v": -0.0083},
      {"s": "44° - 70°", "t": "2024-03-27T05:59", "v": -0.0055}, {"s": "44° - 70°", "t": "2024-03-27T07:04", "v": -0.0041},
      {"s": "44° - 70°", "t": "2024-03-27T08:09", "v": -0.0042}, {"s": "44° - 70°", "t": "2024-03-27T09:14", "v": -0.003},
      {"s": "44° - 70°", "t": "2024-03-27T10:06", "v": -0.0028}, {"s": "44° - 70°", "t": "2024-03-27T11:25", "v": -0.0036},
      {"s": "44° - 70°", "t": "2024-03-27T12:43", "v": -0.0044}, {"s": "44° - 70°", "t": "2024-03-27T13:48", "v": -0.0039},
      {"s": "44° - 70°", "t": "2024-03-27T14:53", "v": -0.0055}, {"s": "44° - 70°", "t": "2024-03-27T16:24", "v": -0.0053},
      {"s": "44° - 70°", "t": "2024-03-27T17:55", "v": -0.0081}, {"s": "44° - 70°", "t": "2024-03-27T19:53", "v": -0.0088},
      {"s": "44° - 70°", "t": "2024-03-27T20:58", "v": -0.0077}, {"s": "44° - 70°", "t": "2024-03-27T22:55", "v": -0.0081},
      {"s": "44° - 70°", "t": "2024-03-28T00:00", "v": -0.0061}, {"s": "44° - 70°", "t": "2024-03-28T01:19", "v": -0.0066},
      {"s": "44° - 70°", "t": "2024-03-28T02:37", "v": -0.0061}, {"s": "44° - 70°", "t": "2024-03-28T03:55", "v": -0.005},
      {"s": "44° - 70°", "t": "2024-03-28T05:13", "v": -0.0052}, {"s": "44° - 70°", "t": "2024-03-28T06:31", "v": -0.0044},
      {"s": "44° - 70°", "t": "2024-03-28T07:49", "v": -0.0033}, {"s": "44° - 70°", "t": "2024-03-28T09:08", "v": -0.0014},
      {"s": "44° - 70°", "t": "2024-03-28T10:39", "v": -0.0017}, {"s": "44° - 70°", "t": "2024-03-28T11:57", "v": -0.0011},
      {"s": "44° - 70°", "t": "2024-03-28T13:02", "v": -0.0017}, {"s": "44° - 70°", "t": "2024-03-28T14:20", "v": -0.0014},
      {"s": "44° - 70°", "t": "2024-03-28T15:38", "v": -0.0033}, {"s": "44° - 70°", "t": "2024-03-28T16:57", "v": -0.0044},
      {"s": "44° - 70°", "t": "2024-03-28T18:02", "v": -0.0061}, {"s": "44° - 70°", "t": "2024-03-28T19:20", "v": -0.0059},
      {"s": "44° - 70°", "t": "2024-03-28T20:38", "v": -0.007}, {"s": "44° - 70°", "t": "2024-03-28T22:10", "v": -0.0055},
      {"s": "44° - 70°", "t": "2024-03-28T23:28", "v": -0.0042}, {"s": "44° - 70°", "t": "2024-03-29T00:46", "v": -0.0031},
      {"s": "44° - 70°", "t": "2024-03-29T02:30", "v": -0.003}, {"s": "44° - 70°", "t": "2024-03-29T03:48", "v": -0.0011},
      {"s": "44° - 70°", "t": "2024-03-29T05:07", "v": -0.0014}, {"s": "44° - 70°", "t": "2024-03-29T06:51", "v": -0.0017},
      {"s": "44° - 70°", "t": "2024-03-29T08:09", "v": 0.0003}, {"s": "44° - 70°", "t": "2024-03-29T09:01", "v": 0.001},
      {"s": "44° - 70°", "t": "2024-03-29T09:53", "v": 0.0025}, {"s": "44° - 70°", "t": "2024-03-29T10:46", "v": 0.0025},
      {"s": "44° - 70°", "t": "2024-03-29T12:04", "v": 0.003}, {"s": "44° - 70°", "t": "2024-03-29T13:22", "v": 0.0022},
      {"s": "44° - 70°", "t": "2024-03-29T14:53", "v": 0.0017}, {"s": "44° - 70°", "t": "2024-03-29T15:58", "v": 0.0},
      {"s": "44° - 70°", "t": "2024-03-29T17:16", "v": -0.0011}, {"s": "44° - 70°", "t": "2024-03-29T18:35", "v": -0.0017},
      {"s": "44° - 70°", "t": "2024-03-29T19:53", "v": -0.0039}, {"s": "44° - 70°", "t": "2024-03-29T21:37", "v": -0.0033},
      {"s": "44° - 70°", "t": "2024-03-29T23:21", "v": -0.0028}, {"s": "44° - 70°", "t": "2024-03-30T00:30", "v": -0.003}
    ]
  },
  "vconcat": [
    {
      "width": 1122,
      "height": 255,
      "data": {"name": "spec"},
      "encoding": {
        "x": {
          "field": "t", "type": "temporal",
          "scale": {"domain": [
            {"year": 2024, "month": 3, "date": 23, "hours": 22, "minutes": 55},
            {"year": 2024, "month": 3, "date": 30, "hours": 0, "minutes": 29}
          ]},
          "axis": {"title": "Время", "format": "%Y-%m-%d", "tickCount": {"interval": "day", "step": 1}}
        },
        "y": {
          "field": "v", "type": "quantitative",
          "scale": {"domain": [0.11, 2.138], "nice": false, "zero": false},
          "axis": {"title": ["Показатель", "спектра"], "values": [0.5, 1, 1.5, 2], "format": ".1f"}
        }
      },
      "layer": [
        {"mark": {"type": "line", "color": "black", "strokeWidth": 2}},
        {"mark": {"type": "point", "filled": true, "color": "black", "size": 95, "opacity": 1}}
      ]
    },
    {
      "width": 1122,
      "height": 255,
      "data": {"name": "rate"},
      "mark": {"type": "line", "strokeWidth": 2},
      "encoding": {
        "x": {
          "field": "t", "type": "temporal",
          "scale": {"domain": [
            {"year": 2024, "month": 3, "date": 23, "hours": 22, "minutes": 39},
            {"year": 2024, "month": 3, "date": 30, "hours": 0, "minutes": 33}
          ]},
          "axis": {"title": "Время", "titlePadding": 7, "format": "%Y-%m-%d", "tickCount": {"interval": "day", "step": 1}}
        },
        "y": {
          "field": "v", "type": "quantitative",
          "scale": {"domain": [-0.0689, 0.0157], "nice": false, "zero": false},
          "axis": {"title": ["Отн. скорость", "счёта"], "values": [-0.06, -0.04, -0.02, 0], "format": ".2f"}
        },
        "color": {
          "field": "s", "type": "nominal",
          "scale": {
            "domain": ["0° - 17°", "17° - 26°", "26° - 34°", "34° - 44°", "44° - 70°"],
            "range": ["#1f77b4", "#ff7f0e", "#2ca02c", "#d62728", "#9467bd"]
          }
        }
      }
    }
  ]
}
